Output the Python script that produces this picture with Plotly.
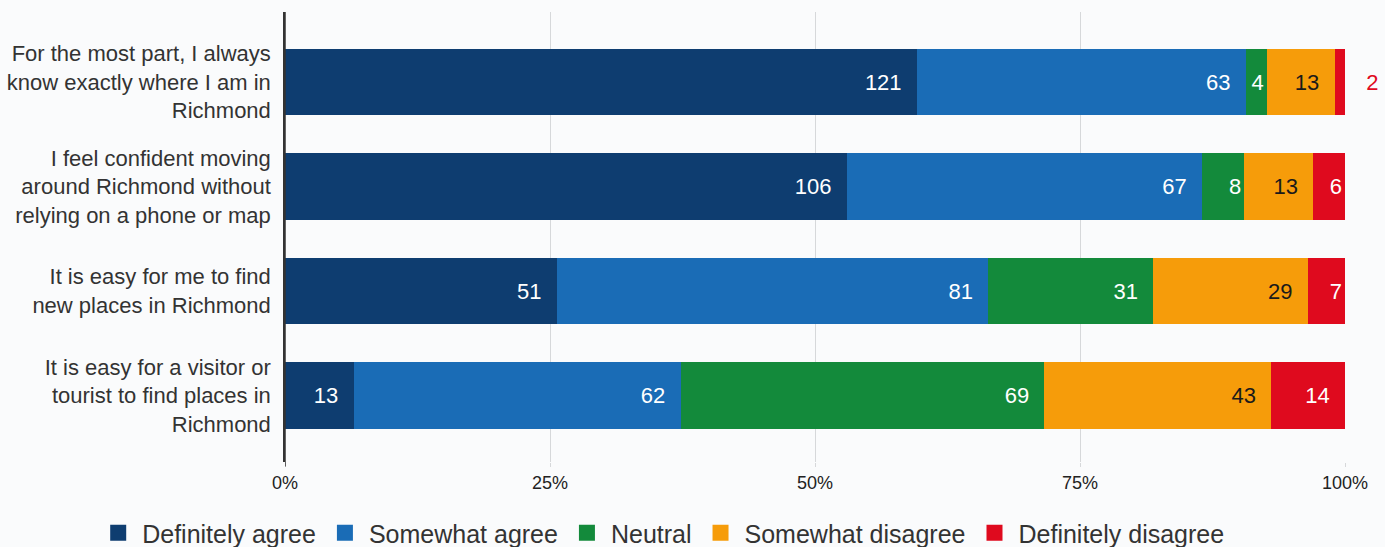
import plotly.graph_objects as go

categories = [
    "For the most part, I always<br>know exactly where I am in<br>Richmond",
    "I feel confident moving<br>around Richmond without<br>relying on a phone or map",
    "It is easy for me to find<br>new places in Richmond",
    "It is easy for a visitor or<br>tourist to find places in<br>Richmond",
]
series_names = ["Definitely agree", "Somewhat agree", "Neutral", "Somewhat disagree", "Definitely disagree"]
definitely_agree = [121, 106, 51, 13]
somewhat_agree = [63, 67, 81, 62]
neutral = [4, 8, 31, 69]
somewhat_disagree = [13, 13, 29, 43]
definitely_disagree = [2, 6, 7, 14]
tick_vals = [0, 0.25, 0.5, 0.75, 1.0]
tick_text = ["0%", "25%", "50%", "75%", "100%"]

series_values = [definitely_agree, somewhat_agree, neutral, somewhat_disagree, definitely_disagree]
colors = ["#0e3d70", "#1a6cb6", "#138a3b", "#f69c0a", "#df0a1e"]
text_colors = ["white", "white", "white", "#1a1a1a", "white"]

totals = [sum(s[i] for s in series_values) for i in range(len(categories))]
FONT = "Arial, 'Liberation Sans', sans-serif"
NB = "\u00a0"

fig = go.Figure()
for name, vals, col, tcol in zip(series_names, series_values, colors, text_colors):
    shares = [v / t for v, t in zip(vals, totals)]
    texts = []
    positions = []
    for v, s in zip(vals, shares):
        if s < 0.015:
            texts.append(NB * 3 + str(v))
            positions.append("outside")
        elif s < 0.05:
            texts.append(str(v))
            positions.append("inside")
        else:
            texts.append(str(v) + NB * 2)
            positions.append("inside")
    fig.add_trace(go.Bar(
        y=list(range(len(categories))), x=shares, orientation="h", name=name,
        marker=dict(color=col, line=dict(width=0)),
        text=texts, textposition=positions, insidetextanchor="end",
        insidetextfont=dict(color=tcol, size=22, family=FONT),
        outsidetextfont=dict(color=col, size=22, family=FONT),
        constraintext="none", cliponaxis=False, showlegend=False,
        hoverinfo="skip",
    ))
    fig.add_trace(go.Scatter(
        x=[None], y=[None], mode="markers", name=name,
        marker=dict(symbol="square", size=17, color=col),
        showlegend=True,
    ))

fig.update_layout(
    width=1385, height=547,
    margin=dict(l=285, r=40, t=12, b=85, autoexpand=False),
    barmode="stack", bargap=0.36,
    paper_bgcolor="#fafbfc", plot_bgcolor="#fafbfc",
    font=dict(family=FONT, color="#333333"),
    legend=dict(
        orientation="h", traceorder="normal",
        x=-0.18, xanchor="left", y=-0.158, yanchor="middle",
        font=dict(size=25, color="#333333", family=FONT),
        bgcolor="rgba(0,0,0,0)", itemwidth=38,
    ),
)
fig.update_xaxes(
    range=[0, 1], tickvals=tick_vals, ticktext=tick_text,
    tickfont=dict(size=18, color="#222222", family=FONT),
    showgrid=True, gridcolor="#d6d8da", gridwidth=1,
    zeroline=False, showline=False,
    ticks="outside", ticklen=4, tickcolor="#d6d8da",
    fixedrange=True,
)
fig.update_yaxes(
    tickvals=list(range(len(categories))), ticktext=categories,
    range=[3.636, -0.67],
    tickfont=dict(size=22, color="#333333", family=FONT),
    showgrid=False, zeroline=False,
    showline=True, linecolor="#333333", linewidth=1.5,
    ticks="", ticklabelstandoff=8,
    fixedrange=True,
)
fig.add_shape(type="line", xref="x", yref="paper", x0=0, x1=0, y0=-0.01, y1=1,
              line=dict(color="#333333", width=1.5))

fig.write_html("out.html")
